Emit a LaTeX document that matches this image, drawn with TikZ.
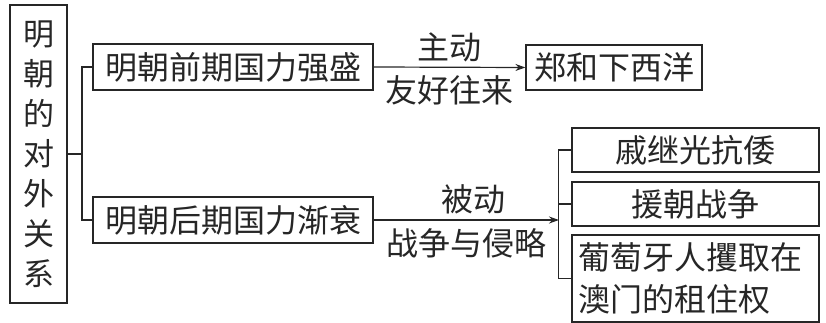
\documentclass[tikz,border=0pt]{standalone}
\usepackage{fontspec}
\newfontfamily\cjk{Noto Sans CJK SC}
\usetikzlibrary{arrows.meta}
\begin{document}
\begin{tikzpicture}[x=1pt,y=-1pt,
  every node/.style={text=black!85},
  txt/.style={font=\cjk\fontsize{32}{40}\selectfont, inner sep=0},
  box/.style={draw=black!85, line width=1.2pt, inner sep=0, font=\cjk\fontsize{32}{40}\selectfont},
  ln/.style={draw=black!85, line width=1.2pt},
  arr/.style={ln, -{Stealth[length=10pt,width=7pt]}}]
\useasboundingbox (0,0) rectangle (826,323);
\node[box, minimum width=57pt, minimum height=298pt, align=center, font=\cjk\fontsize{31}{40}\selectfont] (L) at (38.5,154) {明\\朝\\的\\对\\外\\关\\系};
\node[box, minimum width=280pt, minimum height=46pt] (T1) at (233,67) {明朝前期国力强盛};
\node[box, minimum width=280pt, minimum height=46pt] (T2) at (233,220) {明朝后期国力渐衰};
\node[box, minimum width=176pt, minimum height=45pt] (Z) at (614,67.5) {郑和下西洋};
\node[box, minimum width=247pt, minimum height=44pt] (A) at (695.5,150) {戚继光抗倭};
\node[box, minimum width=247pt, minimum height=44pt] (B) at (695.5,204) {援朝战争};
\node[box, minimum width=247pt, minimum height=87pt, text width=235pt, inner xsep=6pt, align=left, font=\cjk\fontsize{32}{42}\selectfont] (C) at (695.5,278.5) {葡萄牙人攫取在\\澳门的租住权};
\coordinate (j1) at (82,154);
\coordinate (j2) at (559,220);
\draw[ln] (L.east) -- (j1);
\draw[ln] (T1.west) -| (j1) |- (T2.west);
\draw[arr] (T1.east) -- (Z.west)
  node[txt, midway, above=5pt] (l1) {主动}
  node[txt, midway, below=8pt] (l2) {友好往来};
\draw[arr] (T2.east) -- (j2)
  node[txt, midway, above=5pt, xshift=7pt] (l3) {被动}
  node[txt, midway, below=8pt] (l4) {战争与侵略};
\draw[ln] (A.west) -- ++(-13,0) |- (C.west);
\draw[ln] (B.west) -- ++(-13,0);
\end{tikzpicture}
\end{document}
